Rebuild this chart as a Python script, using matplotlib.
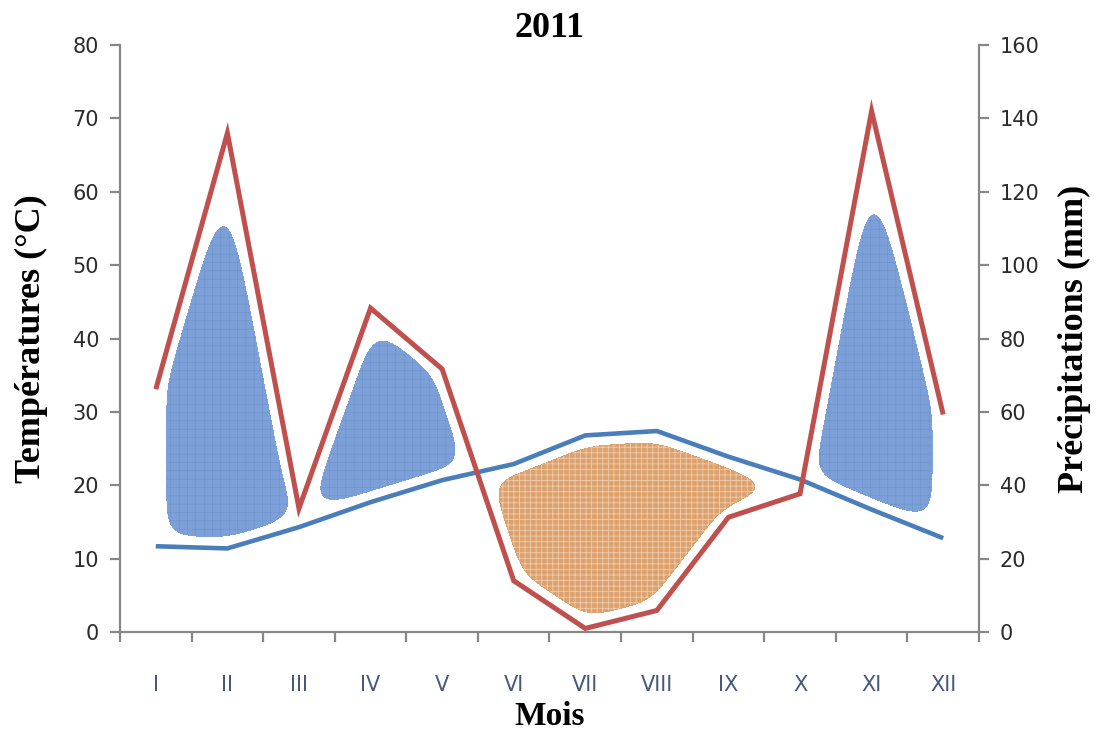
import numpy as np
import matplotlib
matplotlib.use("Agg")
import matplotlib.pyplot as plt

mois = ["I", "II", "III", "IV", "V", "VI", "VII", "VIII", "IX", "X", "XI", "XII"]
temperatures = [11.7, 11.4, 14.3, 17.7, 20.7, 22.9, 26.8, 27.4, 23.9, 20.8, 16.7, 12.8]
precipitations = [66.2, 136, 33.7, 88.3, 71.7, 14.0, 1.0, 5.9, 31.3, 37.7, 142, 59.3]

gris = "#878787"
serif = ["Liberation Serif", "DejaVu Serif"]

fig = plt.figure(figsize=(10.97, 7.35), dpi=100)
ax = fig.add_axes([0.1094, 0.140, 0.7830, 0.7988])
ax2 = ax.twinx()

idx = np.arange(len(mois))
ax.set_xlim(-0.5, 11.5)
ax.set_ylim(0, 80)
ax2.set_ylim(0, 160)

# zones humides / seches : entre la courbe P/2 et T, retrecies et arrondies
rouge = np.array(precipitations) / 2
bleu = np.array(temperatures)
xg = np.linspace(-0.5, 11.5, 700)
yg = np.linspace(0, 80, 500)
X, Y = np.meshgrid(xg, yg)
pts = ax.transData.transform(np.column_stack([X.ravel(), Y.ravel()]))
PX = pts[:, 0].reshape(X.shape)
PY = pts[:, 1].reshape(X.shape)

d = np.full(X.shape, np.inf)
for courbe in (rouge, bleu):
    ligne = ax.transData.transform(np.column_stack([idx, courbe]))
    for (x0, y0), (x1, y1) in zip(ligne[:-1], ligne[1:]):
        dx, dy = x1 - x0, y1 - y0
        t = np.clip(((PX - x0) * dx + (PY - y0) * dy) / (dx * dx + dy * dy), 0, 1)
        d = np.minimum(d, np.hypot(PX - x0 - t * dx, PY - y0 - t * dy))
bords = ax.transData.transform([[0, 0], [11, 0]])[:, 0]
d = np.minimum(d, np.abs(PX - bords[0]))
d = np.minimum(d, np.abs(PX - bords[1]))

R = np.interp(X, idx, rouge)
B = np.interp(X, idx, bleu)
dans = (X >= 0) & (X <= 11)
humide = dans & (Y > B) & (Y < R)
sec = dans & (Y < B) & (Y > R)


def lisser(z, sigma=11):
    k = np.arange(-3 * sigma, 3 * sigma + 1)
    k = np.exp(-0.5 * (k / sigma) ** 2)
    k /= k.sum()
    zp = np.pad(z, 3 * sigma, mode="edge")
    zp = np.apply_along_axis(lambda v: np.convolve(v, k, mode="same"), 0, zp)
    zp = np.apply_along_axis(lambda v: np.convolve(v, k, mode="same"), 1, zp)
    return zp[3 * sigma:-3 * sigma, 3 * sigma:-3 * sigma]


rayon = 11
champ_h = lisser(np.where(humide, d, -d))
champ_s = lisser(np.where(sec, d, -d))

with plt.rc_context({"hatch.color": "#6d91c9", "hatch.linewidth": 0.35}):
    ax.contourf(X, Y, champ_h, levels=[rayon, 1e6], colors=["#7ca0d7"], hatches=["++"], zorder=1)
with plt.rc_context({"hatch.color": "#efcdae", "hatch.linewidth": 0.6}):
    ax.contourf(X, Y, champ_s, levels=[rayon, 1e6], colors=["#dda16d"], hatches=["+++"], zorder=1)

ax.plot(idx, temperatures, color="#4a7ebb", lw=3.3, solid_joinstyle="miter", solid_capstyle="butt", zorder=3)
ax2.plot(idx, precipitations, color="#c0504d", lw=3.6, solid_joinstyle="miter", solid_capstyle="butt", zorder=3)

for a in (ax, ax2):
    a.spines["top"].set_visible(False)
    for s in a.spines.values():
        s.set_color(gris)
        s.set_linewidth(1.6)
ax.spines["right"].set_visible(False)
ax2.spines["left"].set_visible(False)
ax2.spines["bottom"].set_visible(False)

ax.set_xticks(idx, labels=mois)
ax.set_xticks(np.arange(-0.5, 12, 1), minor=True)
ax.tick_params(axis="x", which="major", length=0, pad=31, labelsize=15, labelcolor="#45597f")
ax.tick_params(axis="x", which="minor", length=7, width=1.6, color=gris, direction="out")
ax.set_yticks(range(0, 81, 10))
ax.tick_params(axis="y", length=7, width=1.6, color=gris, pad=8, labelsize=15, labelcolor="#2b2b2b")
ax2.set_yticks(range(0, 161, 20))
ax2.tick_params(axis="y", length=7, width=1.6, color=gris, pad=8, labelsize=15, labelcolor="#2b2b2b")

ax.set_ylabel("Températures (°C)", family=serif, weight="bold", fontsize=26, labelpad=18)
ax2.set_ylabel("Précipitations (mm)", family=serif, weight="bold", fontsize=26, labelpad=13)
ax.set_xlabel("Mois", family=serif, weight="bold", fontsize=24, labelpad=4)
ax.set_title("2011", family=serif, weight="bold", fontsize=26, pad=6)

fig.savefig("out.png", dpi=100)
